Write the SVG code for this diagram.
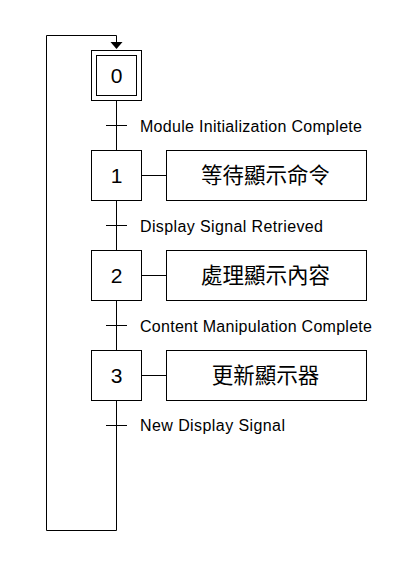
<svg xmlns="http://www.w3.org/2000/svg" width="412" height="568" viewBox="0 0 412 568">
<style>
.ln{fill:none;stroke:#000;stroke-width:1}
.box{fill:#fff;stroke:#000;stroke-width:1}
.num{font-family:"Liberation Sans",Arial,sans-serif;font-size:21px;fill:#000;text-anchor:middle}
.lbl{font-family:"Liberation Sans",Arial,sans-serif;font-size:16px;fill:#000}
.act{font-family:"Noto Sans CJK TC","Noto Sans CJK SC",sans-serif;font-size:21.5px;fill:#000;text-anchor:middle}
</style>
<rect width="412" height="568" fill="#fff"/>
<g id="connectors">
<path class="ln" d="M116.5 100 V150 M116.5 200 V250 M116.5 300 V350 M116.5 400 V530.5 H46.5 V35.5 H116.5 V43"/>
<polygon points="110.5,42 122.5,42 116.5,49" fill="#000"/>
<path class="ln" d="M141.5 175.5 H166.5 M141.5 275.5 H166.5 M141.5 375.5 H166.5"/>
<path class="ln" d="M106 125.5 H127 M106 225.5 H127 M106 325.5 H127 M106 425.5 H127"/>
</g>
<g id="step0">
<rect class="box" x="91.5" y="50.5" width="50" height="50"/>
<rect class="box" x="96.5" y="55.5" width="40" height="40"/>
<text class="num" x="116.5" y="83">0</text>
</g>
<g id="step1">
<rect class="box" x="91.5" y="150.5" width="50" height="50"/>
<text class="num" x="116.5" y="183">1</text>
</g>
<g id="step2">
<rect class="box" x="91.5" y="250.5" width="50" height="50"/>
<text class="num" x="116.5" y="283">2</text>
</g>
<g id="step3">
<rect class="box" x="91.5" y="350.5" width="50" height="50"/>
<text class="num" x="116.5" y="383">3</text>
</g>
<g id="action1">
<rect class="box" x="166.5" y="150.5" width="200" height="50"/>
<text class="act" x="265.5" y="183">等待顯示命令</text>
</g>
<g id="action2">
<rect class="box" x="166.5" y="250.5" width="200" height="50"/>
<text class="act" x="265.5" y="283">處理顯示內容</text>
</g>
<g id="action3">
<rect class="box" x="166.5" y="350.5" width="200" height="50"/>
<text class="act" x="265.5" y="383">更新顯示器</text>
</g>
<g id="transitions">
<text class="lbl" x="140" y="131.5" textLength="222" lengthAdjust="spacing">Module Initialization Complete</text>
<text class="lbl" x="140" y="231.5" textLength="183" lengthAdjust="spacing">Display Signal Retrieved</text>
<text class="lbl" x="140" y="331.5" textLength="232" lengthAdjust="spacing">Content Manipulation Complete</text>
<text class="lbl" x="140" y="431" textLength="145" lengthAdjust="spacing">New Display Signal</text>
</g>
</svg>
